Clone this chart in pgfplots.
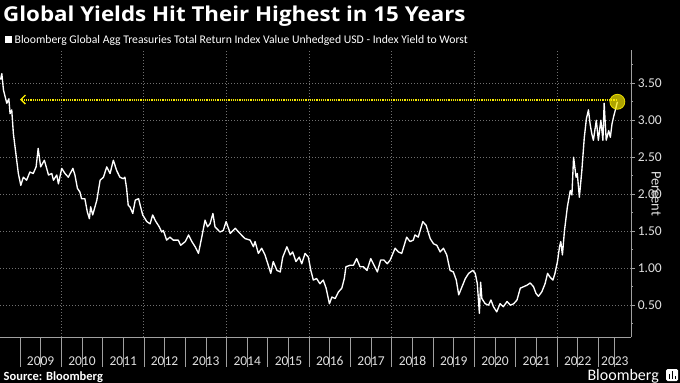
\documentclass[border=0pt]{standalone}
\usepackage{fontspec}
\setmainfont{Carlito}
\newfontfamily\titlefont{Open Sans}
\usepackage{pgfplots}
\usepackage{pgfplotstable}
\pgfplotsset{compat=1.18}
\usetikzlibrary{arrows.meta}
\definecolor{gridc}{HTML}{707070}
\definecolor{axisc}{HTML}{A0A0A0}
\definecolor{labc}{HTML}{E0E0E0}
\definecolor{ylw}{HTML}{F8EA00}

\pgfplotstableread{
x y
2008.53 3.55
2008.56 3.63
2008.60 3.41
2008.68 3.23
2008.73 3.29
2008.76 3.09
2008.80 3.14
2008.84 2.82
2008.88 2.64
2008.92 2.46
2008.96 2.28
2009.02 2.12
2009.08 2.23
2009.16 2.19
2009.24 2.30
2009.32 2.28
2009.39 2.37
2009.44 2.62
2009.50 2.37
2009.59 2.46
2009.69 2.26
2009.77 2.28
2009.81 2.19
2009.89 2.26
2009.93 2.14
2010.01 2.35
2010.09 2.28
2010.17 2.23
2010.28 2.35
2010.33 2.26
2010.39 2.08
2010.45 2.03
2010.49 1.94
2010.57 1.94
2010.63 1.76
2010.68 1.67
2010.71 1.83
2010.76 1.72
2010.86 1.92
2010.94 2.19
2011.02 2.23
2011.10 2.37
2011.18 2.28
2011.26 2.46
2011.34 2.32
2011.42 2.23
2011.50 2.21
2011.54 2.23
2011.58 2.08
2011.62 1.85
2011.66 1.83
2011.73 1.74
2011.79 1.92
2011.87 1.94
2011.91 1.85
2011.97 1.72
2012.07 1.63
2012.15 1.60
2012.21 1.72
2012.29 1.63
2012.37 1.56
2012.43 1.49
2012.47 1.51
2012.55 1.38
2012.63 1.42
2012.71 1.38
2012.83 1.38
2012.89 1.31
2013.00 1.36
2013.08 1.45
2013.16 1.36
2013.24 1.29
2013.32 1.20
2013.40 1.42
2013.48 1.65
2013.54 1.56
2013.60 1.60
2013.67 1.74
2013.72 1.56
2013.84 1.49
2013.92 1.51
2013.99 1.63
2014.09 1.47
2014.21 1.54
2014.29 1.49
2014.41 1.42
2014.45 1.40
2014.57 1.38
2014.65 1.29
2014.69 1.36
2014.77 1.20
2014.85 1.27
2014.93 1.18
2015.01 1.04
2015.07 0.93
2015.13 1.09
2015.22 0.97
2015.30 0.95
2015.36 1.15
2015.46 1.29
2015.54 1.18
2015.60 1.22
2015.68 1.09
2015.76 1.15
2015.82 1.06
2015.90 1.20
2015.98 1.15
2016.04 0.97
2016.10 0.84
2016.18 0.86
2016.26 0.79
2016.34 0.84
2016.41 0.73
2016.49 0.52
2016.55 0.61
2016.63 0.59
2016.71 0.68
2016.79 0.73
2016.85 0.86
2016.89 1.02
2016.99 1.04
2017.07 1.04
2017.15 1.13
2017.23 1.02
2017.31 1.02
2017.40 0.97
2017.49 1.13
2017.57 1.04
2017.65 0.95
2017.73 1.11
2017.81 1.11
2017.89 1.06
2017.96 1.11
2018.08 1.27
2018.16 1.22
2018.24 1.20
2018.36 1.42
2018.44 1.36
2018.52 1.38
2018.56 1.45
2018.64 1.42
2018.75 1.63
2018.83 1.58
2018.93 1.40
2019.01 1.33
2019.09 1.31
2019.17 1.22
2019.25 1.27
2019.33 1.18
2019.41 0.97
2019.49 0.95
2019.56 0.84
2019.62 0.64
2019.70 0.75
2019.78 0.86
2019.86 0.93
2019.96 0.97
2020.02 0.93
2020.07 0.79
2020.12 0.39
2020.15 0.81
2020.18 0.59
2020.26 0.52
2020.34 0.50
2020.40 0.57
2020.46 0.48
2020.54 0.41
2020.62 0.52
2020.70 0.48
2020.79 0.55
2020.87 0.50
2020.95 0.52
2021.03 0.57
2021.11 0.73
2021.19 0.75
2021.27 0.77
2021.35 0.80
2021.43 0.75
2021.49 0.66
2021.55 0.62
2021.63 0.68
2021.71 0.79
2021.77 0.93
2021.83 0.88
2021.90 0.84
2021.95 0.93
2022.01 1.09
2022.06 1.29
2022.09 1.36
2022.13 1.18
2022.18 1.51
2022.25 1.83
2022.32 2.05
2022.36 1.99
2022.40 2.50
2022.46 2.23
2022.49 2.28
2022.54 1.96
2022.60 2.32
2022.66 2.77
2022.71 3.02
2022.76 3.14
2022.80 2.95
2022.84 2.82
2022.88 2.73
2022.95 3.00
2023.00 2.73
2023.06 3.00
2023.11 2.73
2023.14 3.23
2023.19 2.73
2023.25 2.86
2023.29 2.77
2023.33 2.95
2023.37 3.05
2023.43 3.18
2023.46 3.25
}\yields

\begin{document}
\begin{tikzpicture}
\fill[black] (0bp,-46bp) rectangle (680bp,337bp);
\path[use as bounding box] (0bp,-46bp) rectangle (680bp,337bp);
\begin{axis}[
  at={(0bp,0bp)}, anchor=south west,
  scale only axis, width=631bp, height=287bp,
  xmin=2008.516, xmax=2023.79, ymin=0.07, ymax=3.95,
  axis x line*=bottom, axis y line*=right,
  axis line style={axisc, line width=0.8bp},
  tick align=outside,
  xtick={2009,...,2023}, xticklabels={},
  xtick style={axisc, line width=0.8bp, /pgfplots/major tick length=30bp},
  minor xtick={2010,2012,...,2022},
  minor x tick style={/pgfplots/minor tick length=0pt},
  xminorgrids,
  extra x ticks={2009.5,2010.5,2011.5,2012.5,2013.5,2014.5,2015.5,2016.5,2017.5,2018.5,2019.5,2020.5,2021.5,2022.5,2023.4},
  extra x tick labels={2009,2010,2011,2012,2013,2014,2015,2016,2017,2018,2019,2020,2021,2022,2023},
  extra x tick style={grid=none, /pgfplots/major tick length=0pt,
     tick label style={font=\fontsize{13.5bp}{15bp}\selectfont, text=labc, yshift=-16bp}},
  ytick={0.5,1,1.5,2,2.5,3,3.5},
  minor ytick={0.25,0.75,1.25,1.75,2.25,2.75,3.25,3.75},
  ytick style={axisc, line width=0.8bp, /pgfplots/major tick length=4bp},
  minor y tick style={axisc, /pgfplots/minor tick length=2bp},
  ymajorgrids,
  major grid style={gridc, line width=1bp, dash pattern=on 1bp off 2bp},
  minor grid style={gridc, line width=1bp, dash pattern=on 1bp off 2bp},
  yticklabel style={font=\fontsize{13.5bp}{15bp}\selectfont, text=labc, anchor=west, xshift=-1bp},
  /pgf/number format/fixed, /pgf/number format/fixed zerofill,
  /pgf/number format/precision=2, /pgf/number format/assume math mode=true,
  ylabel={Percent},
  ylabel style={font=\fontsize{14.5bp}{16bp}\selectfont, text=labc, rotate=180,
     at={(axis description cs:1.04,0.50)}, anchor=center},
  clip=false,
]
\addplot[ylw, line width=2bp, dash pattern=on 1.3bp off 0.9bp, {Straight Barb[length=4.5bp, width=9bp, line width=1.3bp]}-] coordinates {(2009.0,3.28) (2023.46,3.28)};
\addplot[white, line width=1.35bp, line join=round] table {\yields};
\addplot[only marks, mark=*, mark size=7.5bp, mark options={fill=ylw, fill opacity=0.7, draw=ylw, draw opacity=0.9, line width=0.8bp}] coordinates {(2023.46,3.25)};
\end{axis}
\node[anchor=base west, inner sep=0, text=white, xscale=1.09, font=\titlefont\fontsize{20.5bp}{24bp}\selectfont\bfseries] at (3bp,315.3bp) {Global Yields Hit Their Highest in 15 Years};
\fill[white] (5bp,294.3bp) rectangle (12bp,300.8bp);
\node[anchor=base west, inner sep=0, text=white, font=\fontsize{11.7bp}{13bp}\selectfont] at (14.5bp,293.5bp) {Bloomberg Global Agg Treasuries Total Return Index Value Unhedged USD - Index Yield to Worst};
\node[anchor=base west, inner sep=0, text=white, font=\fontsize{12.5bp}{14bp}\selectfont\bfseries] at (3.5bp,-43bp) {Source: Bloomberg};
\node[anchor=base east, inner sep=0, text=white, font=\fontsize{16bp}{18bp}\selectfont] at (659bp,-43bp) {Bloomberg};
\fill[white, rounded corners=1.5bp] (666bp,-44bp) rectangle (678bp,-32bp);
\fill[black] (668.5bp,-42bp) rectangle (670bp,-37bp);
\fill[black] (671.5bp,-42bp) rectangle (673bp,-34bp);
\fill[black] (674.5bp,-42bp) rectangle (676bp,-39bp);
\end{tikzpicture}
\end{document}
